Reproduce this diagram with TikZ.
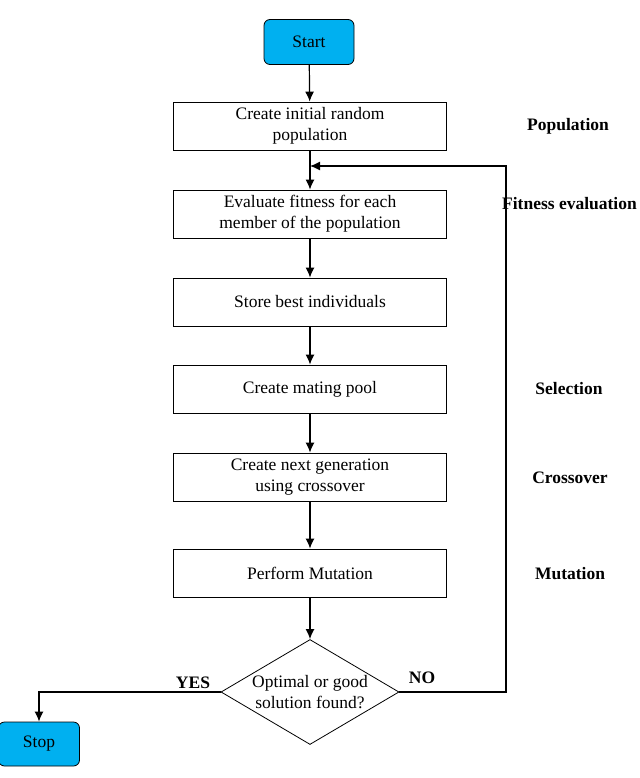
\documentclass[tikz,border=0pt]{standalone}
\usepackage{fontspec}
\setmainfont{Liberation Serif}
\usetikzlibrary{arrows.meta,positioning,shapes,calc}
\definecolor{termblue}{HTML}{00B0F0}
\tikzset{
  flownode/.style = {align=center, inner sep=0pt, text centered, font=\fontsize{17.5}{21}\selectfont},
  stepbox/.style = {flownode, rectangle, draw, line width=0.8pt, minimum width=273pt, minimum height=48pt},
  terminal/.style = {flownode, rectangle, rounded corners=6pt, draw, line width=0.8pt, fill=termblue, minimum width=90pt, minimum height=45pt},
  decision/.style = {flownode, diamond, draw, line width=0.8pt, aspect=1.7, minimum width=178pt, minimum height=105pt},
  stagelabel/.style = {flownode, font=\fontsize{17.5}{21}\selectfont\bfseries},
  flow/.style = {line width=1.2pt, -{Latex[length=10pt,width=9pt]}},
}

\begin{document}
\begin{tikzpicture}[x=1pt,y=-1pt]
\useasboundingbox (0,0) rectangle (639,778);

\node [terminal] (start) at (309,42) {Start};
\node [stepbox] (init) at (310,126) {Create initial random\\population};
\node [stepbox] (fit) at (310,214) {Evaluate fitness for each\\member of the population};
\node [stepbox] (store) at (310,302) {Store best individuals};
\node [stepbox] (pool) at (310,389) {Create mating pool};
\node [stepbox] (cross) at (310,477) {Create next generation\\using crossover};
\node [stepbox] (mut) at (310,573) {Perform Mutation};
\node [decision] (check) at (310,692) {Optimal or good\\solution found?};
\node [terminal, minimum width=81pt, minimum height=44pt] (stop) at (39,744) {Stop};

\coordinate (loop) at (310,166);
\coordinate (noturn) at (506,692);

\draw[flow] (start) -- (init);
\draw[flow] (init) -- (fit);
\draw[flow] (fit) -- (store);
\draw[flow] (store) -- (pool);
\draw[flow] (pool) -- (cross);
\draw[flow] (cross) -- (mut);
\draw[flow] (mut) -- (check);
\draw[flow] (check.west) -| (stop.north);
\draw[flow] (check.east) -- (noturn) |- (loop);

\node [stagelabel] (yes) at (193,683) {YES};
\node [stagelabel] (no) at (422,678) {NO};

% stage names
\node [stagelabel] (lpop) at (568,126) {Population};
\node [stagelabel, anchor=east] (lfit) at (637,204) {Fitness evaluation};
\node [stagelabel] (lsel) at (569,389) {Selection};
\node [stagelabel] (lcross) at (570,478) {Crossover};
\node [stagelabel] (lmut) at (570,574) {Mutation};
\end{tikzpicture}
\end{document}
